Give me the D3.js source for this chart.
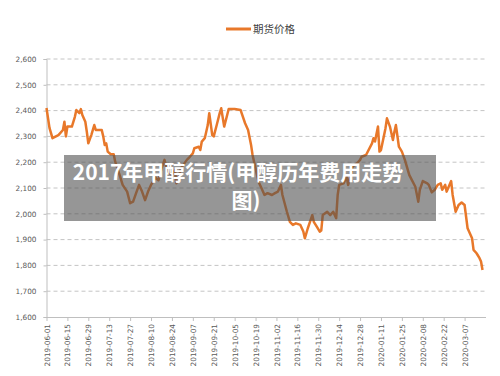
<!DOCTYPE html>
<html>
<head>
<meta charset="utf-8">
<script src="https://cdn.jsdelivr.net/npm/d3@7"></script>
<style>
  body { margin: 0; background: #fff; }
  .axisText { font-family: "DejaVu Sans", sans-serif; font-size: 7.3px; fill: #595959; }
</style>
</head>
<body>
<div id="chart"></div>
<script>
// Data
var tickLabels = ["2019-06-01", "2019-06-15", "2019-06-29", "2019-07-13", "2019-07-27",
    "2019-08-10", "2019-08-24", "2019-09-07", "2019-09-21", "2019-10-05", "2019-10-19",
    "2019-11-02", "2019-11-16", "2019-11-30", "2019-12-14", "2019-12-28", "2020-01-11",
    "2020-01-25", "2020-02-08", "2020-02-22", "2020-03-07"];
var yTicks = [1600, 1700, 1800, 1900, 2000, 2100, 2200, 2300, 2400, 2500, 2600];

var dates = ["2019-06-01", "2019-06-03", "2019-06-05", "2019-06-09", "2019-06-12", "2019-06-13",
    "2019-06-14", "2019-06-15", "2019-06-18", "2019-06-20", "2019-06-21", "2019-06-23",
    "2019-06-24", "2019-06-25", "2019-06-27", "2019-06-28", "2019-06-29", "2019-07-01",
    "2019-07-03", "2019-07-04", "2019-07-08", "2019-07-09", "2019-07-10", "2019-07-11",
    "2019-07-12", "2019-07-14", "2019-07-16", "2019-07-17", "2019-07-20", "2019-07-22",
    "2019-07-25", "2019-07-27", "2019-07-29", "2019-07-31", "2019-08-02", "2019-08-04",
    "2019-08-06", "2019-08-08", "2019-08-10", "2019-08-13", "2019-08-15", "2019-08-17",
    "2019-08-19", "2019-08-20", "2019-08-22", "2019-08-24", "2019-08-26", "2019-08-27",
    "2019-08-29", "2019-08-30", "2019-09-03", "2019-09-05", "2019-09-07", "2019-09-08",
    "2019-09-11", "2019-09-12", "2019-09-13", "2019-09-15", "2019-09-17", "2019-09-18",
    "2019-09-20", "2019-09-21", "2019-09-23", "2019-09-25", "2019-09-26", "2019-09-28",
    "2019-09-30", "2019-10-01", "2019-10-05", "2019-10-09", "2019-10-12", "2019-10-14",
    "2019-10-16", "2019-10-17", "2019-10-19", "2019-10-21", "2019-10-23", "2019-10-25",
    "2019-10-27", "2019-10-30", "2019-11-01", "2019-11-03", "2019-11-05", "2019-11-06",
    "2019-11-09", "2019-11-11", "2019-11-13", "2019-11-15", "2019-11-18", "2019-11-20",
    "2019-11-21", "2019-11-23", "2019-11-26", "2019-11-27", "2019-11-29", "2019-12-01",
    "2019-12-02", "2019-12-03", "2019-12-06", "2019-12-08", "2019-12-10", "2019-12-12",
    "2019-12-13", "2019-12-14", "2019-12-17", "2019-12-19", "2019-12-20", "2019-12-22",
    "2019-12-23", "2019-12-26", "2019-12-28", "2019-12-29", "2020-01-01", "2020-01-05",
    "2020-01-06", "2020-01-07", "2020-01-09", "2020-01-10", "2020-01-11", "2020-01-14",
    "2020-01-15", "2020-01-17", "2020-01-19", "2020-01-20", "2020-01-21", "2020-01-23",
    "2020-01-25", "2020-01-27", "2020-01-30", "2020-02-03", "2020-02-05", "2020-02-06",
    "2020-02-08", "2020-02-11", "2020-02-12", "2020-02-14", "2020-02-16", "2020-02-18",
    "2020-02-20", "2020-02-21", "2020-02-23", "2020-02-24", "2020-02-27", "2020-02-28",
    "2020-03-01", "2020-03-03", "2020-03-05", "2020-03-07", "2020-03-09", "2020-03-12",
    "2020-03-13", "2020-03-15", "2020-03-17", "2020-03-18", "2020-03-19"];
var prices = [2410, 2333, 2293, 2305, 2325, 2357,
    2300, 2338, 2338, 2376, 2402, 2390,
    2406, 2383, 2357, 2318, 2273, 2305,
    2344, 2325, 2325, 2300, 2267, 2273,
    2241, 2231, 2231, 2202, 2150, 2112,
    2086, 2041, 2047, 2080, 2112, 2086,
    2053, 2086, 2112, 2140, 2130, 2175,
    2209, 2185, 2160, 2150, 2170, 2118,
    2150, 2177, 2209, 2221, 2234, 2254,
    2260, 2247, 2280, 2293, 2344, 2390,
    2305, 2300, 2344, 2390, 2409, 2338,
    2383, 2406, 2406, 2402, 2351, 2325,
    2267, 2228, 2176, 2124, 2099, 2073,
    2080, 2073, 2080, 2086, 2112, 2073,
    2008, 1969, 1957, 1963, 1957, 1931,
    1905, 1944, 1995, 1969, 1950, 1931,
    1935, 1995, 2008, 1995, 2008, 1983,
    2073, 2112, 2118, 2144, 2112, 2157,
    2183, 2196, 2209, 2221, 2228, 2273,
    2293, 2280, 2338, 2241, 2247, 2331,
    2370, 2338, 2286, 2318, 2344, 2260,
    2241, 2209, 2150, 2105, 2047, 2093,
    2127, 2118, 2112, 2083, 2093, 2112,
    2118, 2093, 2112, 2086, 2127, 2073,
    2008, 2034, 2044, 2034, 1944, 1905,
    1860, 1847, 1828, 1815, 1782];

var seriesName = "期货价格";
var titleLines = ["2017年甲醇行情(甲醇历年费用走势", "图)"];

// Canvas
var margin = { top: 59, right: 14.5, bottom: 59, left: 46.5 },
    width = 500 - margin.left - margin.right,
    height = 376 - margin.top - margin.bottom;

var root = d3.select("#chart")
    .append("svg")
    .attr("width", 500)
    .attr("height", 376);
var svg = root.append("g")
    .attr("transform", "translate(" + margin.left + "," + margin.top + ")");

var parseDate = d3.timeParse("%Y-%m-%d");
var data = dates.map(function (d, i) { return { date: parseDate(d), price: prices[i] }; });

var x = d3.scaleTime()
    .domain([parseDate("2019-06-01"), parseDate("2020-03-21")])
    .range([0, width]);
var y = d3.scaleLinear()
    .domain([1600, 2600])
    .range([height, 0]);

// dashed gridlines
svg.append("g")
    .selectAll("line")
    .data(yTicks.filter(function (t) { return t > 1600; }))
    .join("line")
    .attr("x1", 0)
    .attr("x2", width)
    .attr("y1", function (d) { return y(d); })
    .attr("y2", function (d) { return y(d); })
    .style("stroke", "#c4c4c4")
    .style("stroke-width", 1)
    .style("stroke-dasharray", "4,3");

// y axis
var yaxis = svg.append("g")
    .call(d3.axisLeft(y).tickValues(yTicks).tickFormat(d3.format(",")).tickSize(3).tickPadding(7));
yaxis.select(".domain").style("stroke", "#bfbfbf");
yaxis.selectAll(".tick line").style("stroke", "#bfbfbf");
yaxis.selectAll("text").attr("class", "axisText");

// x axis
var xaxis = svg.append("g")
    .attr("transform", "translate(0," + height + ")")
    .call(d3.axisBottom(x).tickValues(tickLabels.map(parseDate))
        .tickFormat(d3.timeFormat("%Y-%m-%d")).tickSize(4).tickSizeOuter(0));
xaxis.select(".domain").style("stroke", "#bfbfbf");
xaxis.selectAll(".tick line").style("stroke", "#bfbfbf");
xaxis.selectAll("text")
    .attr("class", "axisText")
    .attr("transform", "rotate(-90)")
    .attr("x", -7)
    .attr("y", 0)
    .attr("dy", "0.35em")
    .style("text-anchor", "end");

// price line
var line = d3.line()
    .x(function (d) { return x(d.date); })
    .y(function (d) { return y(d.price); });

svg.append("path")
    .datum(data)
    .attr("d", line)
    .style("fill", "none")
    .style("stroke", "#e8782a")
    .style("stroke-width", 2.5)
    .style("stroke-linejoin", "round");

// legend
root.append("line")
    .attr("x1", 226).attr("x2", 251)
    .attr("y1", 29).attr("y2", 29)
    .style("stroke", "#e8782a")
    .style("stroke-width", 3);
root.append("text")
    .attr("x", 253)
    .attr("y", 33)
    .style("font-family", "'Noto Sans CJK SC', sans-serif")
    .style("font-size", "10.5px")
    .style("fill", "#404040")
    .text(seriesName);

// caption overlay
root.append("rect")
    .attr("x", 64).attr("y", 155)
    .attr("width", 372).attr("height", 66)
    .style("fill", "rgb(80,80,80)")
    .style("fill-opacity", 0.6);
root.selectAll("text.title")
    .data(titleLines)
    .join("text")
    .attr("class", "title")
    .attr("x", function (d, i) { return i == 0 ? 238 : 246; })
    .attr("y", function (d, i) { return 180 + i * 28; })
    .style("text-anchor", "middle")
    .style("font-family", "'Noto Sans CJK SC', sans-serif")
    .style("font-weight", 700)
    .style("font-size", "21px")
    .style("fill", "#fff")
    .text(function (d) { return d; });
</script>
</body>
</html>
